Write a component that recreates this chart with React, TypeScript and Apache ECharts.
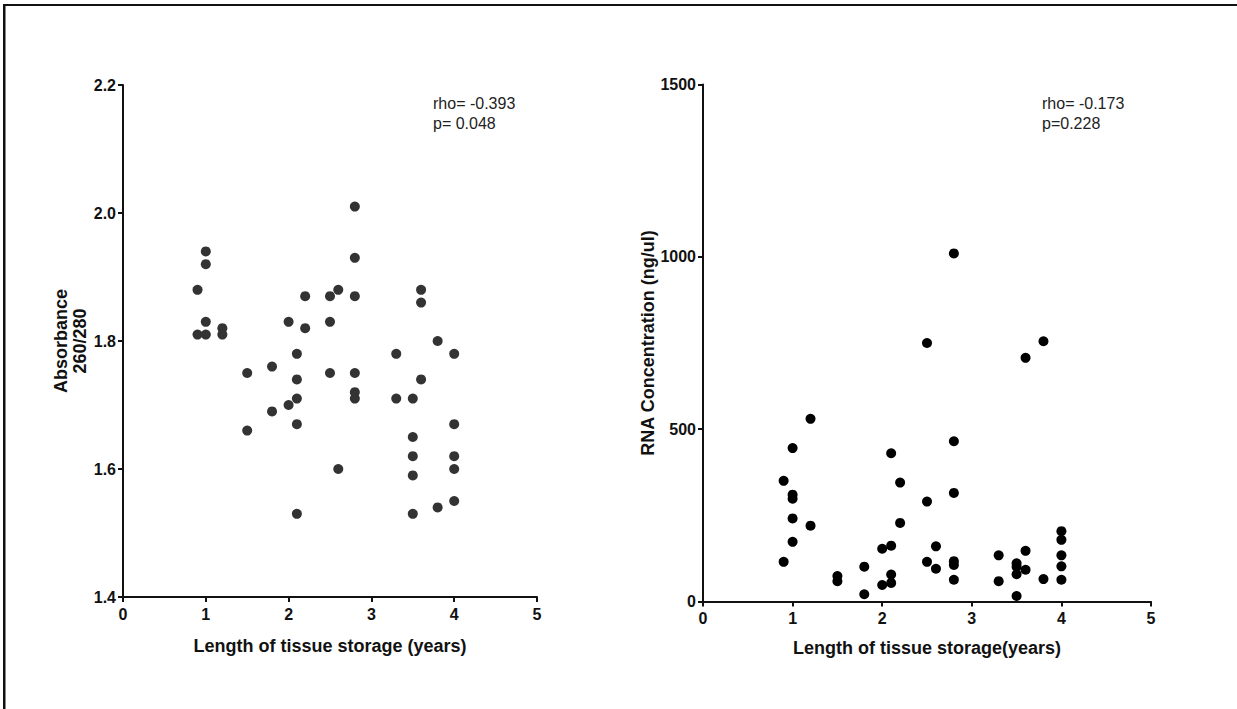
import React, { useEffect, useRef } from "react";
import * as echarts from "echarts";

// Left panel: Absorbance 260/280 vs storage years
const absYears = [0.9, 0.9, 1.0, 1.0, 1.0, 1.0, 1.2, 1.2, 1.5, 1.5, 1.8, 1.8, 2.0, 2.0, 2.1, 2.1, 2.1, 2.1, 2.1, 2.2, 2.2, 2.5, 2.5, 2.5, 2.6, 2.6, 2.8, 2.8, 2.8, 2.8, 2.8, 2.8, 3.3, 3.3, 3.5, 3.5, 3.5, 3.5, 3.5, 3.6, 3.6, 3.6, 3.8, 3.8, 4.0, 4.0, 4.0, 4.0, 4.0];
const absValues = [1.88, 1.81, 1.94, 1.92, 1.83, 1.81, 1.82, 1.81, 1.75, 1.66, 1.76, 1.69, 1.83, 1.70, 1.78, 1.74, 1.71, 1.67, 1.53, 1.87, 1.82, 1.87, 1.83, 1.75, 1.88, 1.60, 2.01, 1.93, 1.87, 1.75, 1.72, 1.71, 1.78, 1.71, 1.71, 1.65, 1.62, 1.59, 1.53, 1.88, 1.86, 1.74, 1.80, 1.54, 1.78, 1.67, 1.62, 1.60, 1.55];

// Right panel: RNA concentration vs storage years
const rnaYears = [2.8, 2.5, 3.8, 3.6, 1.2, 2.8, 1.0, 2.1, 0.9, 2.2, 1.0, 1.0, 2.8, 2.5, 1.0, 1.2, 2.2, 4.0, 4.0, 1.0, 2.1, 2.6, 2.0, 3.6, 3.3, 4.0, 0.9, 2.5, 2.8, 2.8, 3.5, 3.5, 4.0, 1.8, 2.6, 3.6, 2.1, 3.5, 1.5, 1.5, 2.8, 3.8, 4.0, 3.3, 2.1, 2.0, 1.8, 3.5];
const rnaValues = [1010, 750, 755, 707, 530, 465, 445, 430, 350, 345, 310, 298, 315, 290, 241, 220, 228, 204, 179, 173, 162, 160, 153, 147, 134, 134, 115, 115, 117, 106, 111, 101, 102, 101, 95, 92, 78, 79, 74, 59, 63, 65, 63, 59, 54, 48, 21, 16];

const xTicks = [0, 1, 2, 3, 4, 5];
const absTicks = [1.4, 1.6, 1.8, 2.0, 2.2];
const rnaTicks = [0, 500, 1000, 1500];

const annotations = [
  { lines: ["rho= -0.393", "p= 0.048"], x: 433 },
  { lines: ["rho= -0.173", "p=0.228"], x: 1042 },
];

const FONT = 'Arial, "Liberation Sans", sans-serif';

export default function App() {
  const ref = useRef<HTMLDivElement>(null);
  useEffect(() => {
    if (!ref.current) return;
    const chart = echarts.init(ref.current, null, { renderer: "svg" });
    const axisCommon = {
      axisLine: { show: true, lineStyle: { color: "#111", width: 2 } },
      axisTick: { show: true, inside: false, length: 5, lineStyle: { color: "#111", width: 2 } },
      splitLine: { show: false },
      axisLabel: { color: "#111", fontFamily: FONT, fontWeight: "bold", fontSize: 16 },
      nameTextStyle: { color: "#111", fontFamily: FONT, fontWeight: "bold", fontSize: 18 },
    };
    const graphics: any[] = [
      { type: "rect", shape: { x: 3, y: 4, width: 1234, height: 2 }, style: { fill: "#111" } },
      { type: "rect", shape: { x: 3, y: 4, width: 2.5, height: 705 }, style: { fill: "#111" } },
    ];
    annotations.forEach((a) => {
      a.lines.forEach((t, i) => {
        graphics.push({
          type: "text",
          x: a.x,
          y: 103 + i * 20,
          style: { text: t, fill: "#222", font: `16px ${FONT}`, verticalAlign: "middle", align: "left" },
        });
      });
    });
    chart.setOption({
      animation: false,
      backgroundColor: "#fff",
      grid: [
        { left: 123, top: 85, width: 414, height: 512 },
        { left: 703, top: 84.5, width: 448, height: 517 },
      ],
      xAxis: [0, 1].map((g) => ({
        ...axisCommon,
        type: "value",
        gridIndex: g,
        min: xTicks[0],
        max: xTicks[xTicks.length - 1],
        interval: 1,
        name: g === 0 ? "Length of tissue storage (years)" : "Length of tissue storage(years)",
        nameLocation: "middle",
        nameGap: g === 0 ? 40 : 37,
        axisLabel: { ...axisCommon.axisLabel, margin: 9 },
      })),
      yAxis: [
        {
          ...axisCommon,
          type: "value",
          gridIndex: 0,
          min: absTicks[0],
          max: absTicks[absTicks.length - 1],
          interval: 0.2,
          name: "Absorbance\n260/280",
          nameLocation: "middle",
          nameGap: 31,
          nameTextStyle: { ...axisCommon.nameTextStyle, lineHeight: 19 },
          axisLabel: { ...axisCommon.axisLabel, margin: 7, formatter: (v: number) => v.toFixed(1) },
        },
        {
          ...axisCommon,
          type: "value",
          gridIndex: 1,
          min: rnaTicks[0],
          max: rnaTicks[rnaTicks.length - 1],
          interval: 500,
          name: "RNA Concentration (ng/ul)",
          nameLocation: "middle",
          nameGap: 44,
          axisLabel: { ...axisCommon.axisLabel, margin: 7, formatter: (v: number) => String(v) },
        },
      ],
      series: [
        {
          type: "scatter",
          xAxisIndex: 0,
          yAxisIndex: 0,
          symbolSize: 10,
          itemStyle: { color: "#333", opacity: 1 },
          data: absYears.map((x, i) => [x, absValues[i]]),
        },
        {
          type: "scatter",
          xAxisIndex: 1,
          yAxisIndex: 1,
          symbolSize: 10,
          itemStyle: { color: "#000", opacity: 1 },
          data: rnaYears.map((x, i) => [x, rnaValues[i]]),
        },
      ],
      graphic: graphics,
    });
    return () => chart.dispose();
  }, []);
  return (
    <div
      ref={ref}
      style={{ position: "fixed", left: 0, top: 0, width: 1237, height: 709, background: "#fff" }}
    />
  );
}
